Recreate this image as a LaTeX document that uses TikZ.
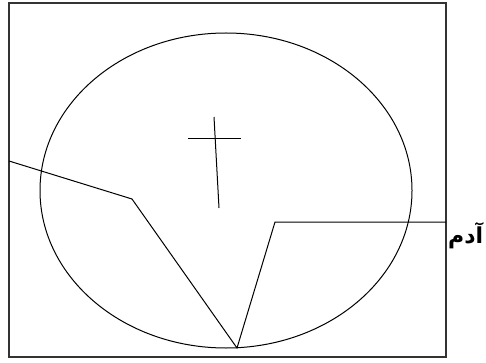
\documentclass[tikz,border=0pt]{standalone}
\usepackage{fontspec}
\newfontfamily\arabicfont[Script=Arabic]{DejaVu Sans}
\TeXXeTstate=1
\usetikzlibrary{positioning}

\begin{document}
\begin{tikzpicture}[
  x=1pt, y=-1pt,
  frame/.style={draw, line width=1.6pt, black!80},
  thinline/.style={draw, line width=1pt, line join=miter},
  wordlbl/.style={font=\arabicfont\bfseries\fontsize{22}{26}\selectfont, inner sep=0pt, anchor=west}
]
  \useasboundingbox (0,0) rectangle (486,363);
  \draw[frame] (9,3) rectangle (446,357);
  \draw[thinline] (226,190.5) ellipse [x radius=186, y radius=157.5];
  % cross
  \coordinate (ct) at (214,117);
  \coordinate (cb) at (219,208);
  \coordinate (cl) at (188,139);
  \coordinate (cr) at (241,139);
  \draw[thinline] (ct) -- (cb);
  \draw[thinline] (cl) -- (cr);
  % broken line
  \coordinate (p0) at (9,161);
  \coordinate (p1) at (132,199);
  \coordinate (p2) at (237,348);
  \coordinate (p3) at (275,222);
  \coordinate (p4) at (446,222);
  \draw[thinline] (p0) -- (p1) -- (p2) -- (p3) -- (p4);
  \node[wordlbl] (adam) at (448,236) {\beginR آدم\endR};
\end{tikzpicture}
\end{document}
